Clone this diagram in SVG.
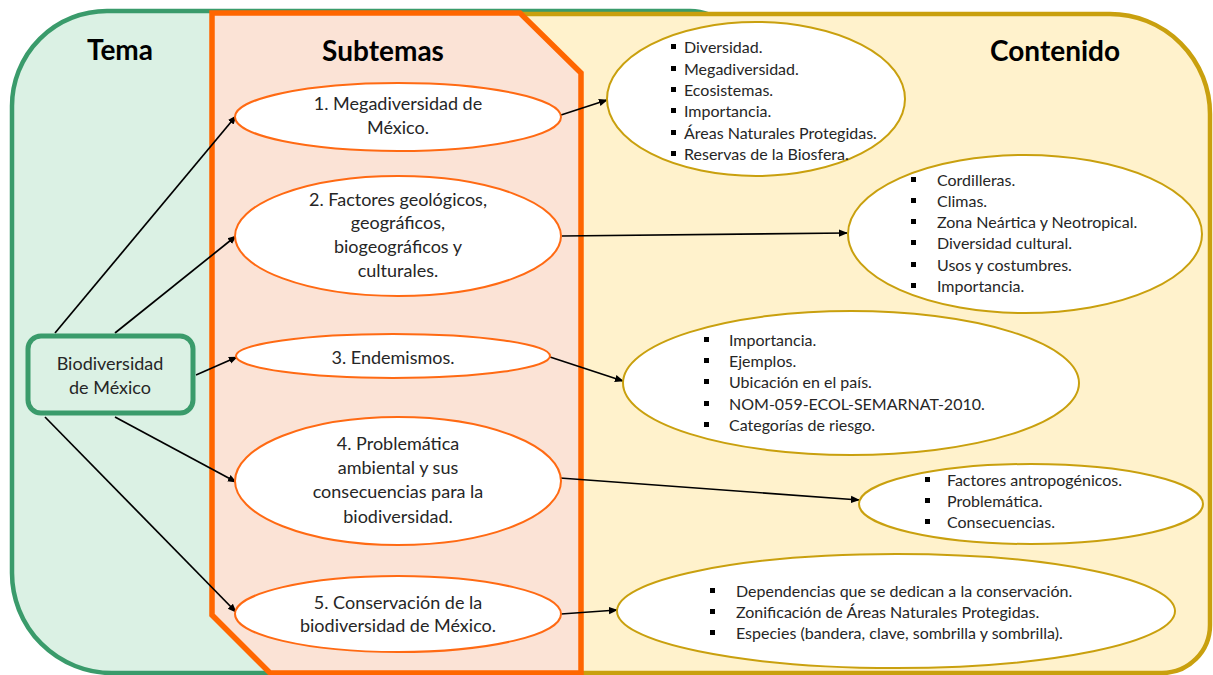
<svg xmlns="http://www.w3.org/2000/svg" width="1213" height="675" viewBox="0 0 1213 675">
  <style>
    .title { font-family: Lato, "Liberation Sans", sans-serif; font-weight: bold; font-size: 28px; fill: #000; text-anchor: middle; }
    .sub { font-family: Lato, "Liberation Sans", sans-serif; font-size: 18px; fill: #262626; text-anchor: middle; }
    .item { font-family: Lato, "Liberation Sans", sans-serif; font-size: 16px; fill: #262626; }
    .topic { font-family: Lato, "Liberation Sans", sans-serif; font-size: 18px; fill: #262626; text-anchor: middle; }
    .sub-shape { fill: #ffffff; stroke: #ff6a13; stroke-width: 2; }
    .cont-shape { fill: #ffffff; stroke: #c9a00e; stroke-width: 2; }
    .bullet { fill: #000; }
    .link { stroke: #000; stroke-width: 1.7; fill: none; marker-end: url(#arr); }
  </style>
  <defs>
    <marker id="arr" viewBox="0 0 10 10" refX="9" refY="5" markerWidth="9" markerHeight="9" markerUnits="userSpaceOnUse" orient="auto">
      <path d="M0,1 L10,5 L0,9 z" fill="#000"/>
    </marker>
  </defs>

  <!-- background bands -->
  <g id="band-tema">
    <path d="M12,106 A95,95 0 0 1 107,11 L690,11 A50,50 0 0 1 740,61 L740,673 L112,673 A100,100 0 0 1 12,573 Z" fill="#dbf1e4" stroke="#3a9b6b" stroke-width="4.5"/>
  </g>
  <g id="band-contenido">
    <path d="M400,14 L1110,14 A100,100 0 0 1 1210,114 L1210,625 A48,48 0 0 1 1162,673 L400,673 Z" fill="#fff2cc" stroke="#c9a00e" stroke-width="4.5"/>
  </g>
  <g id="band-subtemas">
    <polygon points="212,13 520,13 581,73 581,673 270,673 212,615" fill="#fbe3d6" stroke="#ff6600" stroke-width="5.5"/>
  </g>

  <!-- headings -->
  <text class="title" x="120" y="60">Tema</text>
  <text class="title" x="383" y="61">Subtemas</text>
  <text class="title" x="1055" y="61">Contenido</text>

  <!-- connectors -->
  <g id="connectors">
    <line class="link" x1="55" y1="333" x2="236" y2="116"/>
    <line class="link" x1="115" y1="333" x2="236" y2="236"/>
    <line class="link" x1="196" y1="375" x2="237" y2="357"/>
    <line class="link" x1="115" y1="417" x2="236" y2="482"/>
    <line class="link" x1="45" y1="417" x2="236" y2="612"/>
    <line class="link" x1="561" y1="115" x2="607" y2="100"/>
    <line class="link" x1="562" y1="236" x2="847" y2="233"/>
    <line class="link" x1="550" y1="357" x2="623" y2="381"/>
    <line class="link" x1="560" y1="478" x2="859" y2="500"/>
    <line class="link" x1="561" y1="614" x2="617" y2="610"/>
  </g>

  <!-- main topic -->
  <g id="tema">
    <rect x="28" y="336" width="165" height="77" rx="13" fill="#dbf1e4" stroke="#3a9b6b" stroke-width="5"/>
    <text class="topic" x="110" y="370">Biodiversidad</text>
    <text class="topic" x="110" y="394">de México</text>
  </g>

  <!-- subtopics -->
  <g id="subtema-1">
    <ellipse class="sub-shape" cx="398" cy="117" rx="163" ry="34"/>
    <text class="sub" x="398" y="110">1. Megadiversidad de</text>
    <text class="sub" x="398" y="134">México.</text>
  </g>
  <g id="subtema-2">
    <ellipse class="sub-shape" cx="398" cy="236" rx="163" ry="60"/>
    <text class="sub" x="398" y="206">2. Factores geológicos,</text>
    <text class="sub" x="398" y="229">geográficos,</text>
    <text class="sub" x="398" y="253">biogeográficos y</text>
    <text class="sub" x="398" y="277">culturales.</text>
  </g>
  <g id="subtema-3">
    <ellipse class="sub-shape" cx="393" cy="356" rx="157" ry="22"/>
    <text class="sub" x="393" y="364">3. Endemismos.</text>
  </g>
  <g id="subtema-4">
    <ellipse class="sub-shape" cx="398" cy="481" rx="163" ry="64"/>
    <text class="sub" x="398" y="450">4. Problemática</text>
    <text class="sub" x="398" y="474">ambiental y sus</text>
    <text class="sub" x="398" y="498">consecuencias para la</text>
    <text class="sub" x="398" y="523">biodiversidad.</text>
  </g>
  <g id="subtema-5">
    <ellipse class="sub-shape" cx="398" cy="614" rx="163" ry="38"/>
    <text class="sub" x="398" y="609">5. Conservación de la</text>
    <text class="sub" x="398" y="632">biodiversidad de México.</text>
  </g>

  <!-- content lists -->
  <g id="contenido-1">
    <ellipse class="cont-shape" cx="756" cy="99" rx="149" ry="77"/>
    <g class="bullet">
      <rect x="671" y="44" width="5" height="5"/>
      <rect x="671" y="66" width="5" height="5"/>
      <rect x="671" y="87" width="5" height="5"/>
      <rect x="671" y="108" width="5" height="5"/>
      <rect x="671" y="130" width="5" height="5"/>
      <rect x="671" y="151" width="5" height="5"/>
    </g>
    <text class="item" x="684" y="53">Diversidad.</text>
    <text class="item" x="684" y="75">Megadiversidad.</text>
    <text class="item" x="684" y="96">Ecosistemas.</text>
    <text class="item" x="684" y="117">Importancia.</text>
    <text class="item" x="684" y="139">Áreas Naturales Protegidas.</text>
    <text class="item" x="684" y="160">Reservas de la Biosfera.</text>
  </g>
  <g id="contenido-2">
    <ellipse class="cont-shape" cx="1025" cy="234" rx="177" ry="79"/>
    <g class="bullet">
      <rect x="911" y="177" width="5" height="5"/>
      <rect x="911" y="198" width="5" height="5"/>
      <rect x="911" y="219" width="5" height="5"/>
      <rect x="911" y="240" width="5" height="5"/>
      <rect x="911" y="262" width="5" height="5"/>
      <rect x="911" y="283" width="5" height="5"/>
    </g>
    <text class="item" x="937" y="186">Cordilleras.</text>
    <text class="item" x="937" y="207">Climas.</text>
    <text class="item" x="937" y="228">Zona Neártica y Neotropical.</text>
    <text class="item" x="937" y="249">Diversidad cultural.</text>
    <text class="item" x="937" y="271">Usos y costumbres.</text>
    <text class="item" x="937" y="292">Importancia.</text>
  </g>
  <g id="contenido-3">
    <ellipse class="cont-shape" cx="851" cy="383" rx="228" ry="72"/>
    <g class="bullet">
      <rect x="704" y="337" width="5" height="5"/>
      <rect x="704" y="358" width="5" height="5"/>
      <rect x="704" y="379" width="5" height="5"/>
      <rect x="704" y="401" width="5" height="5"/>
      <rect x="704" y="422" width="5" height="5"/>
    </g>
    <text class="item" x="729" y="346">Importancia.</text>
    <text class="item" x="729" y="367">Ejemplos.</text>
    <text class="item" x="729" y="388">Ubicación en el país.</text>
    <text class="item" x="729" y="410">NOM-059-ECOL-SEMARNAT-2010.</text>
    <text class="item" x="729" y="431">Categorías de riesgo.</text>
  </g>
  <g id="contenido-4">
    <ellipse class="cont-shape" cx="1031" cy="504" rx="172" ry="40"/>
    <g class="bullet">
      <rect x="925" y="477" width="5" height="5"/>
      <rect x="925" y="498" width="5" height="5"/>
      <rect x="925" y="519" width="5" height="5"/>
    </g>
    <text class="item" x="947" y="486">Factores antropogénicos.</text>
    <text class="item" x="947" y="507">Problemática.</text>
    <text class="item" x="947" y="528">Consecuencias.</text>
  </g>
  <g id="contenido-5">
    <ellipse class="cont-shape" cx="896" cy="611" rx="279" ry="57"/>
    <g class="bullet">
      <rect x="710" y="588" width="5" height="5"/>
      <rect x="710" y="609" width="5" height="5"/>
      <rect x="710" y="630" width="5" height="5"/>
    </g>
    <text class="item" x="736" y="597">Dependencias que se dedican a la conservación.</text>
    <text class="item" x="736" y="618">Zonificación de Áreas Naturales Protegidas.</text>
    <text class="item" x="736" y="639">Especies (bandera, clave, sombrilla y sombrilla).</text>
  </g>
</svg>
